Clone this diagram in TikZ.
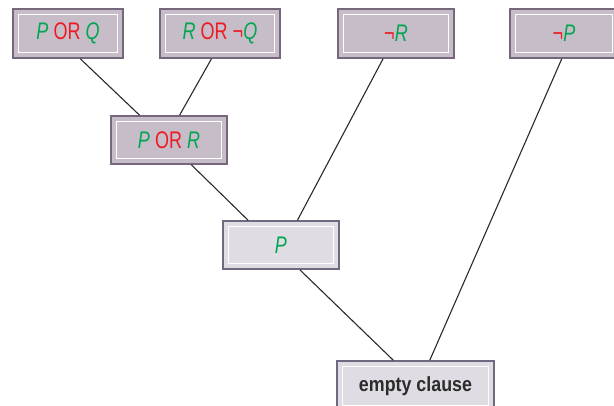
\documentclass[tikz,border=0pt]{standalone}
\usepackage{fontspec}
\setmainfont{Liberation Sans}
\newfontfamily\condfont[FakeStretch=0.75]{Liberation Sans}
\newfontfamily\boldcond[FakeStretch=0.87]{Liberation Sans}
\usetikzlibrary{calc}
\definecolor{litgreen}{HTML}{00A651}
\definecolor{litred}{HTML}{ED1C24}
\definecolor{darkfill}{HTML}{C6BDC9}
\definecolor{darkedge}{HTML}{75687D}
\definecolor{lightfill}{HTML}{E0DCE3}
\definecolor{lightedge}{HTML}{6F6A80}
\definecolor{wiregray}{HTML}{2A2A2A}
\definecolor{labelgray}{HTML}{2B2B2B}
\newcommand{\lit}[1]{\textcolor{litgreen}{\itshape #1}}
\newcommand{\opr}[1]{\textcolor{litred}{#1}}
\begin{document}
\begin{tikzpicture}[x=1pt,y=-1pt,
  clausebox/.style={rectangle, inner sep=0pt, line width=1.5pt,
    font=\condfont\fontsize{24}{24}\selectfont,
    path picture={\draw[white, line width=1pt]
      ([shift={(5.5pt,-5.5pt)}]path picture bounding box.north west) rectangle
      ([shift={(-5.5pt,5.5pt)}]path picture bounding box.south east);}},
  darkbox/.style={clausebox, draw=darkedge, fill=darkfill},
  lightbox/.style={clausebox, draw=lightedge, fill=lightfill},
  wire/.style={draw=wiregray, line width=1.1pt}]
\useasboundingbox (0,0) rectangle (614,405);
\node[darkbox, minimum width=110pt, minimum height=49pt] (A) at (68,33.5) {\lit{P} \opr{OR} \lit{Q}};
\node[darkbox, minimum width=120pt, minimum height=49pt] (B) at (220,33.5) {\lit{R} \opr{OR} \opr{¬}\lit{Q}};
\node[darkbox, minimum width=116pt, minimum height=49pt] (C) at (396,33.5) {\opr{¬}\lit{R}};
\node[darkbox, minimum width=108pt, minimum height=49pt] (D) at (564,33.5) {\opr{¬}\lit{P}};
\node[darkbox, minimum width=116pt, minimum height=48pt] (E) at (169,140) {\lit{P} \opr{OR} \lit{R}};
\node[lightbox, minimum width=116pt, minimum height=48pt] (F) at (281,245) {\lit{P}};
\node[lightbox, minimum width=157pt, minimum height=50pt, font=\boldcond\bfseries\fontsize{20.5}{20.5}\selectfont, text=labelgray] (G) at (415.5,386) {empty clause};
\coordinate (a1) at ($(A.south west)!0.61!(A.south east)$);
\coordinate (e1) at ($(E.north west)!0.25!(E.north east)$);
\coordinate (b1) at ($(B.south west)!0.43!(B.south east)$);
\coordinate (e2) at ($(E.north west)!0.59!(E.north east)$);
\coordinate (c1) at ($(C.south west)!0.39!(C.south east)$);
\coordinate (f2) at ($(F.north west)!0.64!(F.north east)$);
\coordinate (e3) at ($(E.south west)!0.69!(E.south east)$);
\coordinate (f1) at ($(F.north west)!0.22!(F.north east)$);
\coordinate (d1) at ($(D.south west)!0.48!(D.south east)$);
\coordinate (g2) at ($(G.north west)!0.59!(G.north east)$);
\coordinate (f3) at ($(F.south west)!0.66!(F.south east)$);
\coordinate (g1) at ($(G.north west)!0.36!(G.north east)$);
\draw[wire] (a1) -- (e1);
\draw[wire] (b1) -- (e2);
\draw[wire] (c1) -- (f2);
\draw[wire] (e3) -- (f1);
\draw[wire] (d1) -- (g2);
\draw[wire] (f3) -- (g1);
\end{tikzpicture}
\end{document}
